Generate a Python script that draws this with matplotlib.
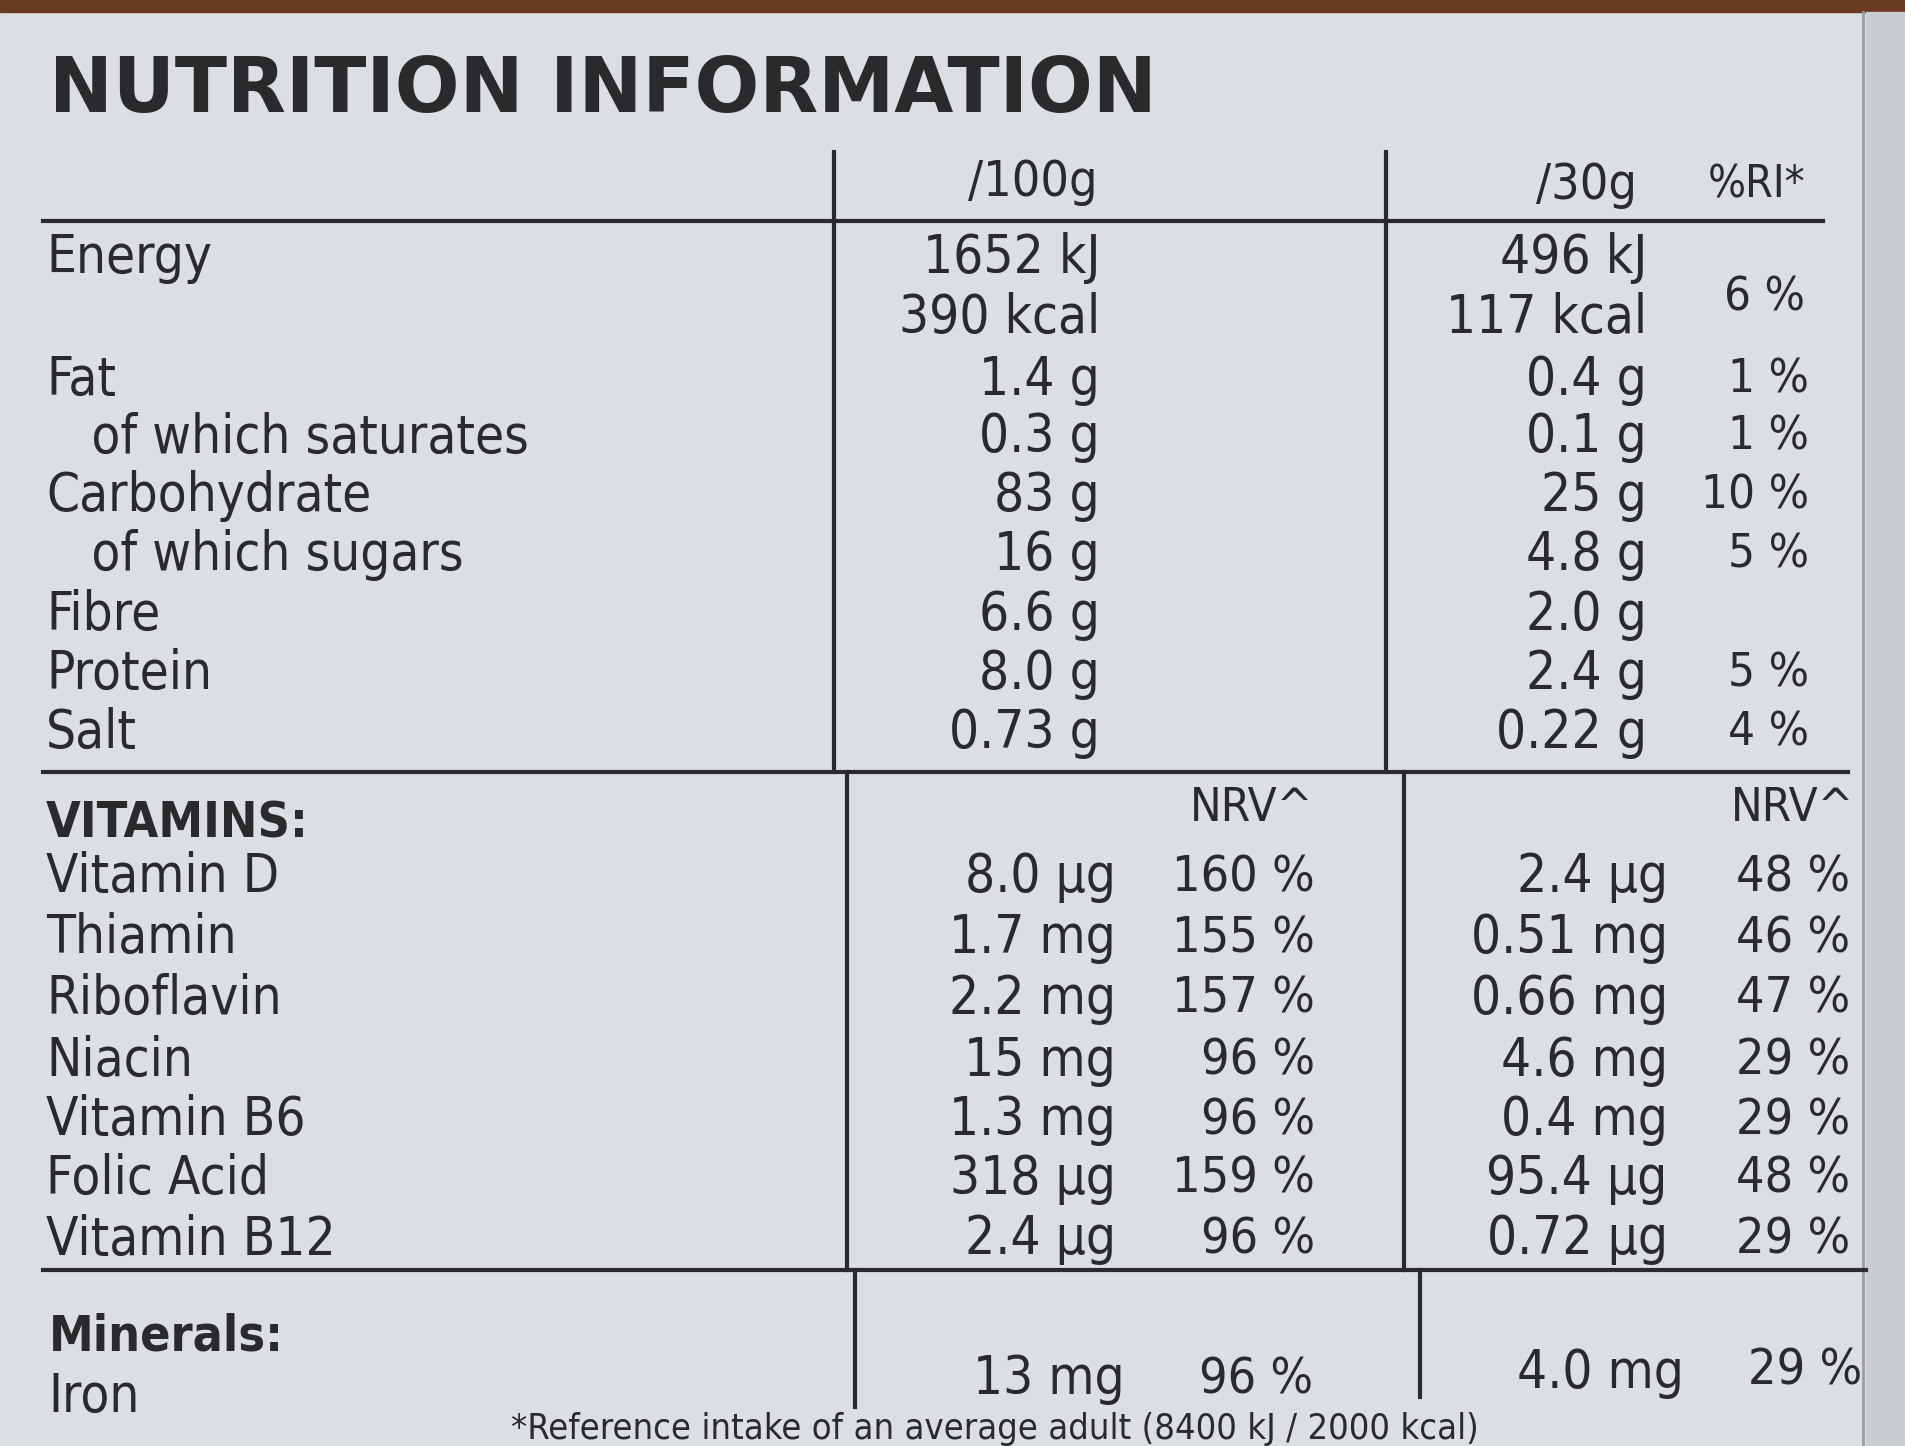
import matplotlib.pyplot as plt

W, H = 1568, 1190  # reference pixel frame

nutrients = ["Energy", "", "Fat", "  of which saturates", "Carbohydrate",
             "  of which sugars", "Fibre", "Protein", "Salt"]
per100 = ["1652 kJ", "390 kcal", "1.4 g", "0.3 g", "83 g", "16 g", "6.6 g", "8.0 g", "0.73 g"]
per30 = ["496 kJ", "117 kcal", "0.4 g", "0.1 g", "25 g", "4.8 g", "2.0 g", "2.4 g", "0.22 g"]
ri30 = ["", "", "1 %", "1 %", "10 %", "5 %", "", "5 %", "4 %"]
energy_ri = "6 %"

vitamins = ["Vitamin D", "Thiamin", "Riboflavin", "Niacin", "Vitamin B6", "Folic Acid", "Vitamin B12"]
vit100 = ["8.0 µg", "1.7 mg", "2.2 mg", "15 mg", "1.3 mg", "318 µg", "2.4 µg"]
vitnrv100 = ["160 %", "155 %", "157 %", "96 %", "96 %", "159 %", "96 %"]
vit30 = ["2.4 µg", "0.51 mg", "0.66 mg", "4.6 mg", "0.4 mg", "95.4 µg", "0.72 µg"]
vitnrv30 = ["48 %", "46 %", "47 %", "29 %", "29 %", "48 %", "29 %"]

minerals = ["Iron"]
min100 = ["13 mg"]
minnrv100 = ["96 %"]
min30 = ["4.0 mg"]
minnrv30 = ["29 %"]

ink = "#2a2a2c"
fig = plt.figure(figsize=(19.06, 14.46), dpi=100)
fig.patch.set_facecolor("#dcdfe2")
ax = fig.add_axes([0, 0, 1, 1])
ax.set_xlim(0, W)
ax.set_ylim(H, 0)
ax.axis("off")

# top food strip and right edge
ax.fill_between([0, W], 0, 10, color="#6b3a22")
ax.fill_between([1535, W], 10, H, color="#c9ccd0")
ax.plot([1533, 1533], [10, H], color="#9a9ca0", lw=2)

def t(x, y, s, ha="left", size=36, weight="normal", stretch="condensed"):
    ax.text(x, y, s, ha=ha, va="center", fontsize=size, fontweight=weight,
            family="DejaVu Sans", fontstretch=stretch, color=ink)

t(40, 75, "NUTRITION INFORMATION", size=55, weight="bold", stretch="normal")

lw = 3
ax.plot([686, 686], [125, 635], color=ink, lw=lw)
ax.plot([697, 697], [635, 1045], color=ink, lw=lw)
ax.plot([703, 703], [1045, 1158], color=ink, lw=lw)
ax.plot([1140, 1140], [125, 635], color=ink, lw=lw)
ax.plot([1155, 1155], [635, 1045], color=ink, lw=lw)
ax.plot([1168, 1168], [1045, 1150], color=ink, lw=lw)
ax.plot([35, 1500], [182, 182], color=ink, lw=lw)
ax.plot([35, 1520], [635, 635], color=ink, lw=lw)
ax.plot([35, 1535], [1045, 1045], color=ink, lw=lw)

t(850, 150, "/100g", ha="center")
t(1305, 152, "/30g", ha="center")
t(1445, 152, "%RI*", ha="center", size=32)

ys = [212, 262, 313, 360, 408, 457, 506, 555, 603]
for i, y in enumerate(ys):
    t(38, y, nutrients[i].replace("  ", "   "), size=38)
    t(905, y, per100[i], ha="right", size=38)
    t(1355, y, per30[i], ha="right", size=38)
    t(1488, y, ri30[i], ha="right", size=34)
t(1485, 245, energy_ri, ha="right", size=34)

t(38, 678, "VITAMINS:", size=36, weight="bold")
t(1030, 665, "NRV^", ha="center", size=34)
t(1475, 665, "NRV^", ha="center", size=34)
vys = [722, 772, 822, 873, 922, 970, 1020]
for i, y in enumerate(vys):
    t(38, y, vitamins[i], size=38)
    t(918, y, vit100[i], ha="right", size=38)
    t(1082, y, vitnrv100[i], ha="right", size=36)
    t(1372, y, vit30[i], ha="right", size=38)
    t(1522, y, vitnrv30[i], ha="right", size=36)

t(40, 1100, "Minerals:", size=36, weight="bold")
for i, name in enumerate(minerals):
    t(40, 1150, name, size=38)
    t(925, 1135, min100[i], ha="right", size=38)
    t(1080, 1135, minnrv100[i], ha="right", size=36)
    t(1385, 1130, min30[i], ha="right", size=38)
    t(1532, 1128, minnrv30[i], ha="right", size=36)

t(420, 1176, "*Reference intake of an average adult (8400 kJ / 2000 kcal)", size=26)

fig.savefig("out.png", dpi=100, facecolor=fig.get_facecolor())
